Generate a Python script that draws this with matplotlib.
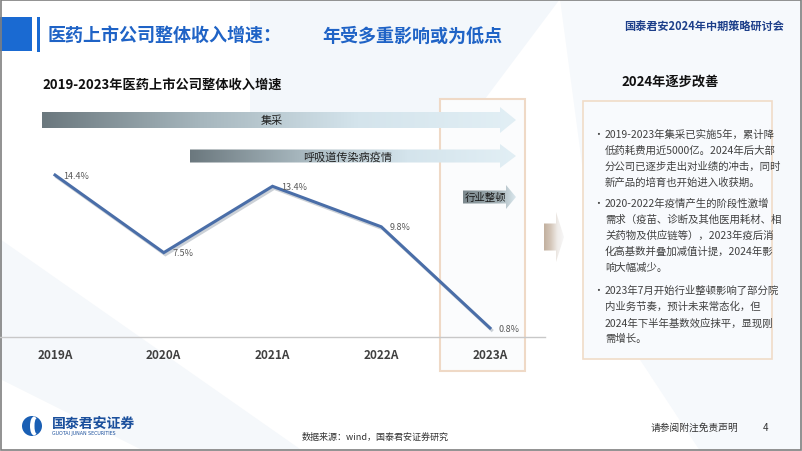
import numpy as np
import matplotlib.pyplot as plt
import matplotlib.patheffects as pe
from matplotlib.patches import Polygon, Rectangle, Circle, Ellipse
from matplotlib.colors import LinearSegmentedColormap

plt.rcParams['font.family'] = ['Noto Sans CJK SC', 'DejaVu Sans']

# data
years = ['2019A', '2020A', '2021A', '2022A', '2023A']
growth = [14.4, 7.5, 13.4, 9.8, 0.8]
growth_labels = ['14.4%', '7.5%', '13.4%', '9.8%', '0.8%']

bullets = [
    ['2019-2023年集采已实施5年，累计降', '低药耗费用近5000亿。2024年后大部',
     '分公司已逐步走出对业绩的冲击，同时', '新产品的培育也开始进入收获期。'],
    ['2020-2022年疫情产生的阶段性激增', '需求（疫苗、诊断及其他医用耗材、相',
     '关药物及供应链等），2023年疫后消', '化高基数并叠加减值计提，2024年影', '响大幅减少。'],
    ['2023年7月开始行业整顿影响了部分院', '内业务节奏，预计未来常态化，但',
     '2024年下半年基数效应抹平，显现刚', '需增长。'],
]

W, H = 802, 452
fig = plt.figure(figsize=(W / 100, H / 100), dpi=100)
fig.patch.set_facecolor('white')

# background / decoration layer in pixel coords (y down)
bg = fig.add_axes([0, 0, 1, 1], zorder=0)
bg.axis('off')

# faint background shapes
bg.add_patch(Polygon([(250, 0), (560, 0), (470, 120), (250, 120)], closed=True,
                     fc='#f3f7fb', ec='none', zorder=0))
bg.add_patch(Polygon([(0, 240), (0, 380), (140, 450), (300, 450)], closed=True,
                     fc='#f5f8fb', ec='none', zorder=0))
bg.add_patch(Polygon([(560, 0), (802, 0), (802, 452), (700, 452), (600, 300)], closed=True,
                     fc='#f6f9fc', ec='none', zorder=0))


def grad_arrow(x0, x1, yc, bh, hh, hl, cols):
    pts = [(x0, yc - bh / 2), (x1 - hl, yc - bh / 2), (x1 - hl, yc - hh / 2), (x1, yc),
           (x1 - hl, yc + hh / 2), (x1 - hl, yc + bh / 2), (x0, yc + bh / 2)]
    patch = Polygon(pts, closed=True, fc='none', ec='none')
    bg.add_patch(patch)
    cmap = LinearSegmentedColormap.from_list('g', cols)
    grad = np.linspace(0, 1, 256).reshape(1, -1)
    im = bg.imshow(grad, cmap=cmap, extent=(x0, x1, yc + hh / 2, yc - hh / 2),
                   aspect='auto', zorder=2, interpolation='bilinear')
    im.set_clip_path(patch)


# header
bg.add_patch(Rectangle((0, 18), 32, 34, fc='#1a6ad2', ec='none', zorder=3))
bg.add_patch(Rectangle((37, 18), 3, 35, fc='#1a6ad2', ec='none', zorder=3))
bg.text(48, 36, '医药上市公司整体收入增速：', fontsize=13, fontweight='bold',
        color='#1f63c6', va='center', ha='left', zorder=4)
bg.text(322, 36, '年受多重影响或为低点', fontsize=13, fontweight='bold',
        color='#1f63c6', va='center', ha='left', zorder=4)
bg.text(624, 27, '国泰君安2024年中期策略研讨会', fontsize=8, fontweight='bold',
        color='#1d3f8a', va='center', ha='left', zorder=4)

# chart title
bg.text(42, 85, '2019-2023年医药上市公司整体收入增速', fontsize=9.5, fontweight='bold',
        color='#111111', va='center', ha='left', zorder=4)

# highlight frame around 2023
bg.add_patch(Rectangle((440, 100), 85, 272, fc='#fbfcfd', ec='#efd9c6', lw=1.5, zorder=1))

# driver arrows
grad_arrow(42, 516, 121, 16, 26, 16, ['#6b787e', '#a6b6bd', '#d4e4ec', '#e2eff5'])
bg.text(272, 121, '集采', fontsize=8, color='#222222', va='center', ha='center', zorder=4)
grad_arrow(190, 516, 157, 13, 24, 16, ['#6b787e', '#a6b6bd', '#d4e4ec', '#e2eff5'])
bg.text(348, 157, '呼吸道传染病疫情', fontsize=8, color='#222222', va='center', ha='center', zorder=4)
grad_arrow(463, 516, 198, 13, 24, 10, ['#7c898e', '#8e9ca1', '#a3b1b6', '#dbe8ee'])
bg.text(485, 198, '行业整顿', fontsize=7.5, color='#1a1a1a', va='center', ha='center', zorder=4)

# transition arrow
grad_arrow(544, 564, 238, 27, 50, 8, ['#c2b09e', '#d4c6b9', '#efebe7', '#f7f7f8'])

# right panel
bg.text(670, 82, '2024年逐步改善', fontsize=9.5, fontweight='bold', color='#111111',
        va='center', ha='center', zorder=4)
bg.add_patch(Rectangle((583, 102), 189, 258, fc='#f8fafd', ec='#f0dcc8', lw=1.2, zorder=1))
starts = [135, 204, 291]
for lines, y0 in zip(bullets, starts):
    bg.text(593, y0, '•', fontsize=7, color='#404040', va='center', ha='left', zorder=4)
    for i, ln in enumerate(lines):
        bg.text(605, y0 + 16 * i, ln, fontsize=7.5, color='#404040',
                va='center', ha='left', zorder=4)

# footer logo
bg.add_patch(Circle((32, 427), 10, fc='#1a5fb4', ec='none', zorder=3))
bg.add_patch(Ellipse((34, 427), 8, 19, fc='white', ec='none', zorder=4))
bg.add_patch(Ellipse((36.5, 427), 4, 15, fc='#1a5fb4', ec='none', zorder=5))
bg.text(52, 424, '国泰君安证券', fontsize=10, fontweight='bold', color='#1a4f9c',
        va='center', ha='left', zorder=4)
bg.text(52, 434, 'GUOTAI JUNAN SECURITIES', fontsize=3.4, color='#1a4f9c',
        va='center', ha='left', zorder=4, family='DejaVu Sans')
bg.text(375, 437, '数据来源：wind，国泰君安证券研究', fontsize=6.5, color='#333333',
        va='center', ha='center', zorder=4)
bg.text(651, 428, '请参阅附注免责声明', fontsize=7, color='#333333', va='center', ha='left', zorder=4)
bg.text(763, 428, '4', fontsize=7, color='#333333', va='center', ha='left', zorder=4)

# slide frame
bg.add_patch(Rectangle((0.5, 0.5), W - 1.5, H - 1.5, fc='none', ec='#7f7f7f', lw=1.2, zorder=6))

bg.set_xlim(0, W)
bg.set_ylim(H, 0)

# line chart
ax = fig.add_axes([0, (H - 338) / H, 545 / W, 238 / H], zorder=1)
ax.patch.set_alpha(0)
x = np.arange(len(years))
ax.plot(x, growth, color='#4a6ea8', lw=2.2, solid_joinstyle='miter',
        path_effects=[pe.SimpleLineShadow(offset=(1.2, -1.5), shadow_color='#9aa4b0', alpha=0.5),
                      pe.Normal()])
for xi, v, lab in zip(x, growth, growth_labels):
    ax.annotate(lab, (xi, v), xytext=(6, 0), textcoords='offset points',
                fontsize=6.5, color='#595959', va='center', ha='left')
ax.set_xlim(-0.506, 4.506)
ax.set_ylim(0, 21.16)
ax.set_xticks(x, years)
ax.set_yticks([])
ax.tick_params(axis='x', length=0, pad=8, labelsize=8.5, labelcolor='#404040')
for t in ax.get_xticklabels():
    t.set_fontweight('bold')
for s in ['top', 'left', 'right']:
    ax.spines[s].set_visible(False)
ax.spines['bottom'].set_color('#c8c8c8')
ax.spines['bottom'].set_linewidth(1)

fig.savefig('out.png', dpi=100)
